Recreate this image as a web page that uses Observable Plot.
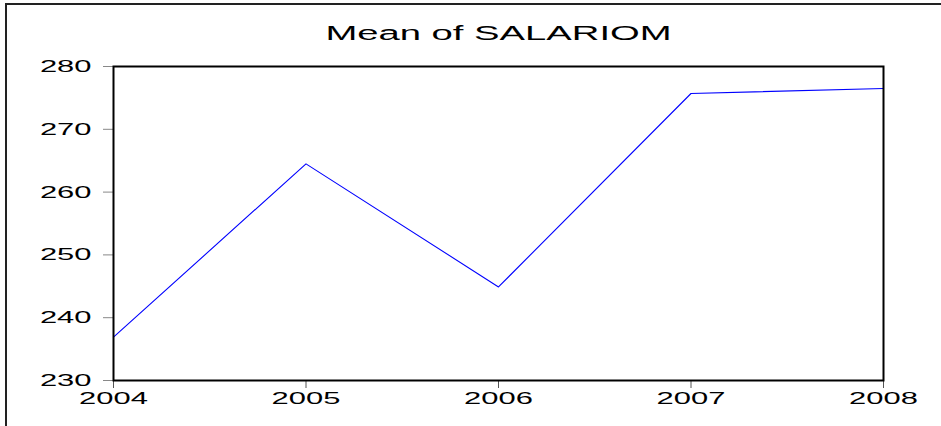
<!DOCTYPE html>
<html>
<head>
<meta charset="utf-8">
<script src="https://cdn.jsdelivr.net/npm/d3@7"></script>
<script src="https://cdn.jsdelivr.net/npm/@observablehq/plot@0.6"></script>
<style>
  html, body { margin: 0; padding: 0; background: #fff; overflow: hidden; }
  #wrap { position: relative; width: 941px; height: 426px; }
  #box { position: absolute; left: 5px; top: 3px; width: 1000px; height: 500px;
         border-left: 2px solid #222; border-top: 2px solid #222; pointer-events: none; }
  #chart { position: absolute; left: 0; top: 0; }
</style>
</head>
<body>
<div id="wrap"><div id="chart"></div><div id="box"></div></div>
<script>
const title = "Mean of SALARIOM";
const years = [2004, 2005, 2006, 2007, 2008];
const salariom = [236.9, 264.5, 244.9, 275.7, 276.5];
const yTicks = [230, 240, 250, 260, 270, 280];
const xTicks = [2004, 2005, 2006, 2007, 2008];

const data = years.map((year, i) => ({year, value: salariom[i]}));

const svg = Plot.plot({
  width: 941,
  height: 426,
  marginLeft: 113,
  marginRight: 58,
  marginTop: 66,
  marginBottom: 46,
  style: {fontFamily: "'Liberation Sans', Arial, sans-serif", background: "white", overflow: "visible"},
  x: {domain: [2004, 2008]},
  y: {domain: [230, 280]},
  marks: [
    Plot.axisY(yTicks, {tickSize: 10, tickPadding: 12, fontSize: 17, stroke: "#888", fill: "black", label: null}),
    Plot.axisX(xTicks, {tickSize: 8, tickPadding: 3, fontSize: 17, stroke: "#555", fill: "black", tickFormat: "d", label: null}),
    Plot.line(data, {x: "year", y: "value", stroke: "#0000ff", strokeWidth: 1.1}),
    Plot.frame({stroke: "black", strokeWidth: 2}),
    Plot.text([title], {frameAnchor: "top", dy: -33, text: d => d, fontSize: 21, fill: "black", lineAnchor: "middle"})
  ]
});

d3.select(svg).selectAll("text").each(function() {
  const xs = this.getAttribute("x");
  let extra = "";
  if (xs !== null && isFinite(+xs)) {
    extra = ` translate(${+xs},0)`;
    this.removeAttribute("x");
  }
  const t = this.getAttribute("transform") || "";
  this.setAttribute("transform", `${t}${extra} scale(1.82,1)`);
});

document.getElementById("chart").appendChild(svg);
</script>
</body>
</html>
